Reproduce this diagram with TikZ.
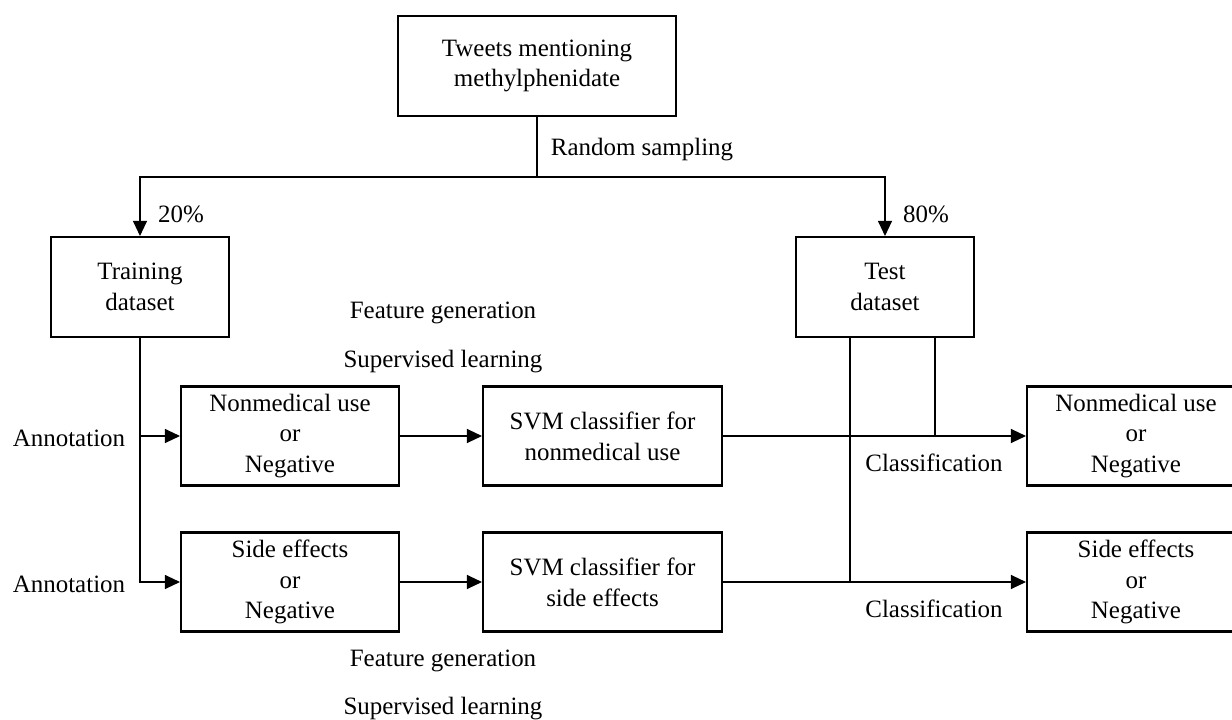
\documentclass[tikz,border=0pt]{standalone}
\usepackage{fontspec}
\setmainfont{Liberation Serif}
\usepackage{tikz}
\usetikzlibrary{arrows.meta, positioning, calc}

\begin{document}
\begin{tikzpicture}[x=0.02cm, y=-0.02cm,
  font=\fontsize{14.2}{17.5}\selectfont,
  box/.style={draw, rectangle, line width=1.2pt, align=center, inner sep=0pt},
  line/.style={line width=0.6pt},
  arrow/.style={line width=0.6pt, -{Triangle[length=0.3cm, width=0.28cm]}}]
\clip (0,0) rectangle (1232,720);

% Tweets
\node[box, minimum width=5.56cm, minimum height=2cm] (tweets) at (537,66) {Tweets mentioning\\methylphenidate};

% Split
\coordinate (split) at (537,177);
\draw[line] (tweets) -- (split);
\node at (642,150) {Random sampling};

% Datasets
\node[box, minimum width=3.56cm, minimum height=2cm] (train) at (140,287) {Training\\dataset};
\node[box, minimum width=3.56cm, minimum height=2cm] (test) at (885,287) {Test\\dataset};
\draw[arrow] (split) -| (train.north);
\draw[arrow] (split) -| (test.north);
\node at (181,214) {20\%};
\node at (926,214) {80\%};

% Annotated sets
\node[box, minimum width=4.36cm, minimum height=1.98cm] (nmlabel) at (290,436) {Nonmedical use\\or\\Negative};
\node[box, minimum width=4.36cm, minimum height=1.98cm] (selabel) at (290,582) {Side effects\\or\\Negative};
\draw[arrow] (train.south) |- (nmlabel.west);
\draw[arrow] (train.south) |- (selabel.west);
\node at (69,438) {Annotation};
\node at (69,584) {Annotation};

% Classifiers
\node[box, minimum width=4.78cm, minimum height=1.98cm] (nmsvm) at (602.5,436) {SVM classifier for\\nonmedical use};
\node[box, minimum width=4.78cm, minimum height=1.98cm] (sesvm) at (602.5,582) {SVM classifier for\\side effects};
\draw[arrow] (nmlabel) -- (nmsvm);
\draw[arrow] (selabel) -- (sesvm);
\node at (443,313) {Feature generation};
\node at (443,362) {Supervised learning};
\node at (443,661) {Feature generation};
\node at (443,709) {Supervised learning};

% Outputs
\node[box, minimum width=4.36cm, minimum height=1.98cm] (nmout) at (1136,436) {Nonmedical use\\or\\Negative};
\node[box, minimum width=4.36cm, minimum height=1.98cm] (seout) at (1136,582) {Side effects\\or\\Negative};
\draw[arrow] (nmsvm) -- (nmout);
\draw[arrow] (sesvm) -- (seout);
\coordinate (ta) at (850,337);
\coordinate (tb) at (935,337);
\draw[line] (ta) -- (ta |- seout.west);
\draw[line] (tb) -- (tb |- nmout.west);
\node at (934,463) {Classification};
\node at (934,609) {Classification};
\end{tikzpicture}
\end{document}
